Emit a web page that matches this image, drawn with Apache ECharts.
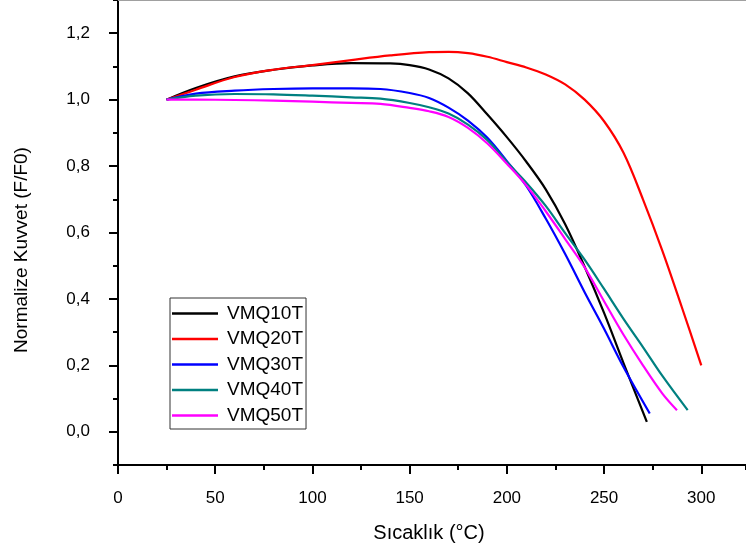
<!DOCTYPE html>
<html>
<head>
<meta charset="utf-8">
<script src="https://cdn.jsdelivr.net/npm/echarts@6/dist/echarts.min.js"></script>
<style>
  html, body { margin: 0; padding: 0; background: #fff; }
  #chart { width: 746px; height: 558px; }
</style>
</head>
<body>
<div id="chart"></div>
<script>
// values, temperature (°C) and normalized force (F/F0)
const seriesNames = ['VMQ10T', 'VMQ20T', 'VMQ30T', 'VMQ40T', 'VMQ50T'];
const seriesColors = ['#000000', '#ff0000', '#0000ff', '#008080', '#ff00ff'];

const tempVMQ10T = [25, 40, 60, 80, 100, 120, 140, 150, 160, 170, 180, 190, 200, 210, 220, 230, 240, 250, 260, 272];
const valVMQ10T = [1.0, 1.035, 1.07, 1.09, 1.103, 1.11, 1.109, 1.104, 1.091, 1.064, 1.019, 0.955, 0.887, 0.813, 0.73, 0.625, 0.497, 0.358, 0.207, 0.03];

const tempVMQ20T = [25, 40, 60, 80, 100, 120, 140, 160, 170, 180, 190, 200, 210, 220, 230, 240, 250, 260, 270, 280, 290, 300];
const valVMQ20T = [1.0, 1.03, 1.068, 1.09, 1.104, 1.119, 1.133, 1.143, 1.144, 1.14, 1.129, 1.113, 1.097, 1.076, 1.046, 1.0, 0.935, 0.84, 0.7, 0.545, 0.375, 0.2];

const tempVMQ30T = [25, 40, 60, 80, 100, 120, 135, 150, 160, 170, 180, 190, 200, 210, 220, 230, 240, 250, 260, 273.5];
const valVMQ30T = [1.0, 1.018, 1.027, 1.032, 1.034, 1.034, 1.032, 1.02, 1.005, 0.976, 0.937, 0.885, 0.815, 0.74, 0.642, 0.535, 0.42, 0.31, 0.195, 0.055];

const tempVMQ40T = [25, 40, 60, 80, 100, 120, 135, 150, 160, 170, 180, 190, 200, 210, 220, 230, 240, 250, 260, 270, 280, 293];
const valVMQ40T = [1.0, 1.012, 1.017, 1.016, 1.012, 1.007, 1.003, 0.99, 0.977, 0.958, 0.925, 0.878, 0.812, 0.75, 0.68, 0.598, 0.518, 0.43, 0.34, 0.255, 0.168, 0.065];

const tempVMQ50T = [25, 40, 60, 80, 100, 120, 135, 150, 160, 170, 180, 190, 200, 210, 220, 230, 240, 250, 260, 270, 280, 287.5];
const valVMQ50T = [1.0, 1.0, 0.999, 0.997, 0.994, 0.99, 0.987, 0.975, 0.965, 0.948, 0.915, 0.868, 0.807, 0.742, 0.664, 0.58, 0.495, 0.393, 0.292, 0.2, 0.115, 0.065];

const xTicks = [0, 50, 100, 150, 200, 250, 300];

const allTemps = [tempVMQ10T, tempVMQ20T, tempVMQ30T, tempVMQ40T, tempVMQ50T];
const allVals = [valVMQ10T, valVMQ20T, valVMQ30T, valVMQ40T, valVMQ50T];

const FONT = '"Liberation Sans", Arial, sans-serif';
const X_MAX = 323;

const chart = echarts.init(document.getElementById('chart'), null, {renderer: 'canvas'});

const series = seriesNames.map((name, i) => ({
    name: name,
    type: 'line',
    xAxisIndex: 0,
    yAxisIndex: 0,
    smooth: 0.35,
    showSymbol: false,
    symbol: 'none',
    lineStyle: {color: seriesColors[i], width: 2.2},
    itemStyle: {color: seriesColors[i]},
    data: allTemps[i].map((t, j) => [t, allVals[i][j]])
}));

const option = {
    animation: false,
    backgroundColor: '#ffffff',
    grid: [
        // main plot area
        {left: 118, right: 0, top: 0, bottom: 93},
        // carries only the major y ticks and labels (0,0 .. 1,2)
        {left: 118, right: 0, top: 33.2, bottom: 126.2}
    ],
    legend: {
        orient: 'vertical',
        left: 170,
        top: 298,
        data: seriesNames,
        icon: 'rect',
        itemWidth: 46,
        itemHeight: 2.5,
        itemGap: 6.5,
        padding: [6, 3, 4, 2],
        borderColor: '#333333',
        borderWidth: 1,
        textStyle: {fontFamily: FONT, fontSize: 19, color: '#000', padding: [0, 0, 0, 4]}
    },
    xAxis: [
        {
            type: 'value',
            gridIndex: 0,
            min: 0,
            max: X_MAX,
            interval: 50,
            name: 'Sıcaklık (°C)',
            nameLocation: 'middle',
            nameGap: 58,
            nameTextStyle: {fontFamily: FONT, fontSize: 20, color: '#000', padding: [0, 6, 0, 0]},
            axisLine: {show: true, onZero: false, lineStyle: {color: '#000', width: 2}},
            axisTick: {show: true, inside: false, length: 9, lineStyle: {color: '#000', width: 2}},
            splitLine: {show: false},
            axisLabel: {
                margin: 25,
                fontFamily: FONT,
                fontSize: 17,
                color: '#000',
                showMaxLabel: false,
                formatter: v => (xTicks.indexOf(v) >= 0 ? String(v) : '')
            }
        },
        {
            // minor x ticks every 25
            type: 'value',
            gridIndex: 0,
            position: 'bottom',
            min: 0,
            max: X_MAX,
            interval: 25,
            axisLine: {show: false, onZero: false},
            axisTick: {show: true, inside: false, length: 5, lineStyle: {color: '#000', width: 2}},
            axisLabel: {show: false},
            splitLine: {show: false}
        },
        {
            // top frame line
            type: 'value',
            gridIndex: 0,
            position: 'top',
            min: 0,
            max: X_MAX,
            axisLine: {show: true, onZero: false, lineStyle: {color: '#a0a0a0', width: 2}},
            axisTick: {show: false},
            axisLabel: {show: false},
            splitLine: {show: false}
        },
        {
            type: 'value',
            gridIndex: 1,
            min: 0,
            max: 1,
            show: false
        }
    ],
    yAxis: [
        {
            type: 'value',
            gridIndex: 0,
            min: -0.1,
            max: 1.3,
            interval: 0.1,
            name: 'Normalize Kuvvet (F/F0)',
            nameLocation: 'middle',
            nameGap: 87,
            nameTextStyle: {fontFamily: FONT, fontSize: 19, color: '#000', padding: [0, 35, 0, 0]},
            axisLine: {show: true, onZero: false, lineStyle: {color: '#000', width: 2}},
            axisTick: {show: true, inside: false, length: 5, lineStyle: {color: '#000', width: 2}},
            axisLabel: {show: false},
            splitLine: {show: false}
        },
        {
            type: 'value',
            gridIndex: 1,
            min: 0,
            max: 1.2,
            interval: 0.2,
            axisLine: {show: false},
            axisTick: {show: true, inside: false, length: 9, lineStyle: {color: '#000', width: 2}},
            splitLine: {show: false},
            axisLabel: {
                margin: 28,
                fontFamily: FONT,
                fontSize: 17,
                color: '#000',
                formatter: v => v.toFixed(1).replace('.', ',')
            }
        }
    ],
    series: series
};

chart.setOption(option);
</script>
</body>
</html>
